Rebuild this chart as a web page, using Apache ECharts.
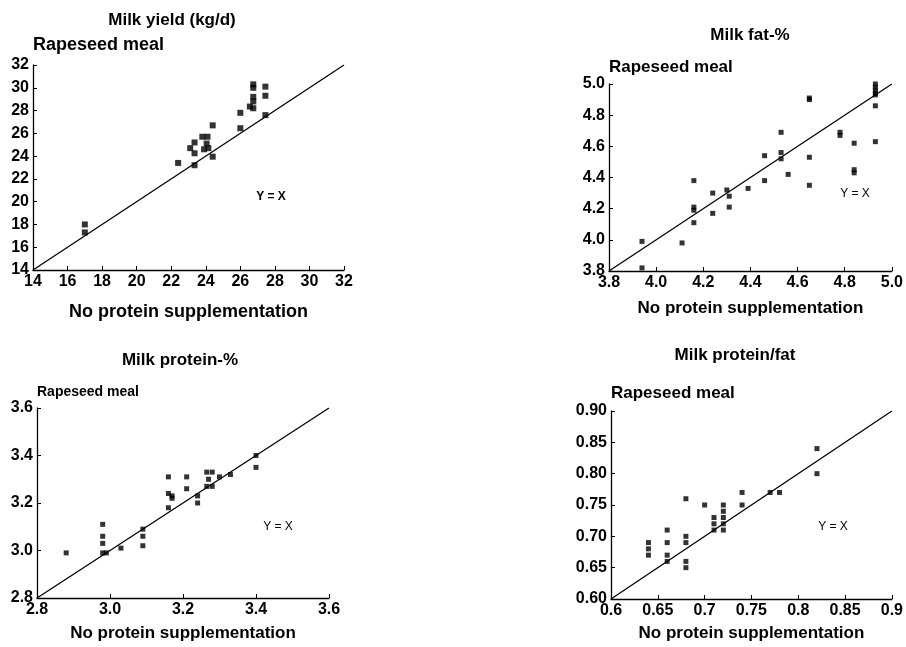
<!DOCTYPE html>
<html>
<head>
<meta charset="utf-8">
<title>Rapeseed meal vs no protein supplementation</title>
<script src="https://cdn.jsdelivr.net/npm/echarts@6/dist/echarts.min.js"></script>
<style>
  html, body { margin: 0; padding: 0; background: #fff; }
  #chart { width: 906px; height: 647px; }
</style>
</head>
<body>
<div id="chart"></div>
<script>
// milk yield (kg/d)
var yieldNone = [17, 17, 22.4, 23.1, 23.35, 23.35, 23.35, 23.8, 24.1, 24.05, 23.9, 24.15, 24.4, 24.4, 26.0, 26.0, 26.75, 26.75, 26.75, 26.75, 26.75, 26.55, 27.45, 27.45, 27.45]
var yieldRsm = [18.0, 17.3, 23.4, 24.7, 25.2, 24.25, 23.2, 25.7, 25.7, 25.1, 24.6, 24.7, 26.7, 23.95, 27.8, 26.45, 30.3, 30.0, 29.2, 28.8, 28.2, 28.35, 30.1, 29.3, 27.6]
// milk fat-%
var fatNone = [3.94, 3.94, 4.11, 4.16, 4.16, 4.16, 4.16, 4.24, 4.24, 4.30, 4.31, 4.31, 4.39, 4.46, 4.46, 4.53, 4.53, 4.53, 4.56, 4.65, 4.65, 4.65, 4.65, 4.78, 4.78, 4.84, 4.84, 4.84, 4.93, 4.93, 4.93, 4.93, 4.93, 4.93, 4.93]
var fatRsm = [3.99, 3.82, 3.98, 4.38, 4.21, 4.19, 4.11, 4.30, 4.17, 4.32, 4.28, 4.21, 4.33, 4.54, 4.38, 4.69, 4.56, 4.52, 4.42, 4.91, 4.90, 4.53, 4.35, 4.69, 4.67, 4.62, 4.45, 4.43, 5.00, 4.98, 4.96, 4.94, 4.93, 4.86, 4.63]
// milk protein-%
var protNone = [2.88, 2.98, 2.98, 2.98, 2.98, 2.99, 3.03, 3.09, 3.09, 3.09, 3.16, 3.16, 3.17, 3.17, 3.16, 3.21, 3.21, 3.24, 3.24, 3.265, 3.28, 3.265, 3.28, 3.27, 3.30, 3.33, 3.40, 3.40]
var protRsm = [2.99, 3.11, 3.06, 3.03, 2.99, 2.99, 3.01, 3.09, 3.06, 3.02, 3.31, 3.24, 3.23, 3.22, 3.18, 3.31, 3.26, 3.23, 3.20, 3.33, 3.33, 3.27, 3.27, 3.30, 3.31, 3.32, 3.40, 3.35]
// milk protein/fat
var ratioNone = [0.64, 0.64, 0.64, 0.66, 0.66, 0.66, 0.66, 0.68, 0.68, 0.68, 0.68, 0.68, 0.70, 0.71, 0.71, 0.71, 0.72, 0.72, 0.72, 0.72, 0.72, 0.74, 0.74, 0.77, 0.78, 0.82, 0.82]
var ratioRsm = [0.69, 0.68, 0.67, 0.71, 0.69, 0.67, 0.66, 0.76, 0.70, 0.69, 0.66, 0.65, 0.75, 0.73, 0.72, 0.71, 0.75, 0.74, 0.73, 0.72, 0.71, 0.77, 0.75, 0.77, 0.77, 0.84, 0.80]

// axis ranges [min, max, interval]
var yieldAxis = [14, 32, 2]
var fatAxis = [3.8, 5.0, 0.2]
var protAxis = [2.8, 3.6, 0.2]
var ratioAxis = [0.6, 0.9, 0.05]

var panelTitles = ['Milk yield (kg/d)', 'Milk fat-%', 'Milk protein-%', 'Milk protein/fat']
var yName = 'Rapeseed meal'
var xName = 'No protein supplementation'

var FONT = '"Liberation Sans", Arial, Helvetica, sans-serif'

function zip (a, b) {
  var out = []
  for (var i = 0; i < a.length; i++) out.push([a[i], b[i]])
  return out
}

function fmt (d) {
  return function (v) { return d == null ? String(+v.toFixed(2)) : v.toFixed(d) }
}

var grids = [
  { left: 33, top: 65, width: 311, height: 205 },
  { left: 609, top: 84, width: 284, height: 187 },
  { left: 37, top: 408, width: 292, height: 190 },
  { left: 611, top: 411, width: 284, height: 188 }
]
var ranges = [yieldAxis, fatAxis, protAxis, ratioAxis]
var xDec = [0, 1, 1, null]
var yDec = [0, 1, 1, 2]
var yNameGap = [20, 17, 16, 18]
var yNameSize = [18, 17, 14, 17]
var xNameGap = [42, 37, 35, 34]
var xNameSize = [18, 17, 17, 17]
var symSize = [6, 5, 5, 5]
var pairs = [
  [yieldNone, yieldRsm],
  [fatNone, fatRsm],
  [protNone, protRsm],
  [ratioNone, ratioRsm]
]

var axisCommon = {
  axisLine: { show: true, lineStyle: { color: '#000', width: 1.3 } },
  axisTick: { show: true, inside: true, length: 4, lineStyle: { color: '#000', width: 1 } },
  splitLine: { show: false }
}

var xAxes = []
var yAxes = []
var series = []
for (var i = 0; i < 4; i++) {
  var r = ranges[i]
  xAxes.push(Object.assign({}, axisCommon, {
    type: 'value', gridIndex: i, min: r[0], max: r[1], interval: r[2],
    name: xName,
    nameLocation: 'middle',
    nameGap: xNameGap[i],
    nameTextStyle: { fontFamily: FONT, fontWeight: 'bold', fontSize: xNameSize[i], color: '#000', verticalAlign: 'middle' },
    axisLabel: { color: '#000', fontFamily: FONT, fontWeight: 'bold', fontSize: 16, margin: 4, formatter: fmt(xDec[i]) }
  }))
  yAxes.push(Object.assign({}, axisCommon, {
    type: 'value', gridIndex: i, min: r[0], max: r[1], interval: r[2],
    name: yName,
    nameLocation: 'end',
    nameGap: yNameGap[i],
    nameTextStyle: { fontFamily: FONT, fontWeight: 'bold', fontSize: yNameSize[i], color: '#000', align: 'left', verticalAlign: 'middle' },
    axisLabel: { color: '#000', fontFamily: FONT, fontWeight: 'bold', fontSize: 16, margin: 4, formatter: fmt(yDec[i]) }
  }))
  // Y = X reference line
  series.push({
    type: 'line',
    xAxisIndex: i,
    yAxisIndex: i,
    data: [[r[0], r[0]], [r[1], r[1]]],
    symbol: 'none',
    silent: true,
    lineStyle: { color: '#000', width: 1.3 }
  })
  series.push({
    type: 'scatter',
    xAxisIndex: i,
    yAxisIndex: i,
    data: zip(pairs[i][0], pairs[i][1]),
    symbol: 'rect',
    symbolSize: symSize[i],
    itemStyle: { color: '#000' }
  })
}

var titlePos = [[172, 20], [750, 35], [180, 360], [735, 355]]
var yxPos = [[271, 197], [855, 194], [278, 527], [833, 527]]
var graphics = []
for (var j = 0; j < 4; j++) {
  graphics.push({
    type: 'text',
    x: titlePos[j][0],
    y: titlePos[j][1],
    style: { text: panelTitles[j], fill: '#000', font: 'bold 17px ' + FONT, textAlign: 'center', textVerticalAlign: 'middle' }
  })
  graphics.push({
    type: 'text',
    x: yxPos[j][0],
    y: yxPos[j][1],
    style: { text: 'Y = X', fill: '#000', font: (j === 0 ? 'bold ' : '') + '12px ' + FONT, textAlign: 'center', textVerticalAlign: 'middle' }
  })
}

var myChart = echarts.init(document.getElementById('chart'))
myChart.setOption({
  animation: false,
  backgroundColor: '#fff',
  grid: grids,
  xAxis: xAxes,
  yAxis: yAxes,
  series: series,
  graphic: graphics
})
</script>
</body>
</html>
